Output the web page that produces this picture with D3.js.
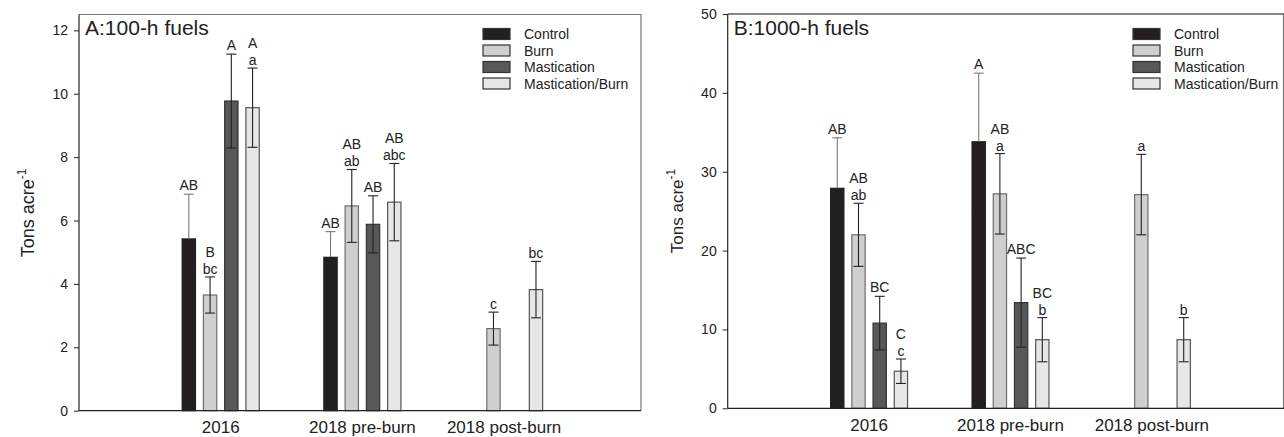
<!DOCTYPE html>
<html>
<head>
<meta charset="utf-8">
<script src="https://cdn.jsdelivr.net/npm/d3@7"></script>
<style>
  body { margin: 0; background: #fff; }
  svg { display: block; font-family: "Liberation Sans", Arial, sans-serif; }
</style>
</head>
<body>
<svg id="chart" width="1284" height="437"></svg>
<script>
const groups = ["2016", "2018 pre-burn", "2018 post-burn"];
const treatments = ["Control", "Burn", "Mastication", "Mastication/Burn"];
const fills = ["#231f20", "#cfcfcf", "#58585a", "#e7e7e8"];
const strokes = ["#231f20", "#6e6e6e", "#333333", "#555555"];
const errUpColors = ["#7a7a7a", "#222222", "#222222", "#222222"];
const errLoColors = ["#231f20", "#222222", "#222222", "#222222"];

// panel A: 100-h fuels (rows = groups, columns = treatments)
const meansA = [[5.42, 3.65, 9.77, 9.56], [4.84, 6.46, 5.88, 6.58], [null, 2.59, null, 3.82]];
const errsA = [[1.41, 0.57, 1.48, 1.25], [0.81, 1.15, 0.90, 1.22], [null, 0.52, null, 0.89]];
const upperA = [["AB", "B", "A", "A"], ["AB", "AB", "AB", "AB"], [null, null, null, null]];
const lowerA = [[null, "bc", null, "a"], [null, "ab", null, "abc"], [null, "c", null, "bc"]];
const ticksA = [0, 2, 4, 6, 8, 10, 12];

// panel B: 1000-h fuels
const meansB = [[27.9, 22.0, 10.8, 4.7], [33.8, 27.2, 13.4, 8.7], [null, 27.1, null, 8.7]];
const errsB = [[6.4, 4.0, 3.4, 1.55], [8.7, 5.1, 5.65, 2.8], [null, 5.1, null, 2.8]];
const upperB = [["AB", "AB", "BC", "C"], ["A", "AB", "ABC", "BC"], [null, null, null, null]];
const lowerB = [[null, "ab", null, "c"], [null, "a", null, "b"], [null, "a", null, "b"]];
const ticksB = [0, 10, 20, 30, 40, 50];

const svg = d3.select("#chart");

function drawPanel(p) {
  const x = d3.scaleLinear().domain([0, 4]).range([p.left, p.left + 4 * p.step]);
  const y = d3.scaleLinear().domain([0, p.ymax]).range([p.bottom, p.top]);
  const g = svg.append("g");
  const barW = x(0.094) - x(0);
  const off = 0.15;

  // frame
  g.append("path")
    .attr("d", `M${p.left},${p.top}H${p.right}V${p.bottom}`)
    .attr("fill", "none").attr("stroke", p.frameColor).attr("stroke-width", 1.2);

  // bars
  const rows = [];
  p.means.forEach((row, gi) => row.forEach((m, ti) => {
    if (m == null) return;
    rows.push({ gi, ti, m, e: p.errs[gi][ti], up: p.upper[gi][ti], lo: p.lower[gi][ti] });
  }));
  const cx = d => x(d.gi + 1 + (d.ti - 1.5) * off);

  g.selectAll(".bar").data(rows).enter().append("rect")
    .attr("x", d => cx(d) - barW / 2)
    .attr("width", barW)
    .attr("y", d => y(d.m))
    .attr("height", d => y(0) - y(d.m))
    .attr("fill", d => fills[d.ti])
    .attr("stroke", d => strokes[d.ti])
    .attr("stroke-width", 1.2);

  // error bars: upper half and lower half
  const eb = g.selectAll(".err").data(rows).enter().append("g").attr("stroke-width", 1.1);
  const up = eb.append("g").attr("stroke", d => errUpColors[d.ti]);
  up.append("line")
    .attr("x1", cx).attr("x2", cx)
    .attr("y1", d => y(d.m)).attr("y2", d => y(d.m + d.e));
  up.append("line")
    .attr("x1", d => cx(d) - 5).attr("x2", d => cx(d) + 5)
    .attr("y1", d => y(d.m + d.e)).attr("y2", d => y(d.m + d.e));
  const lo = eb.append("g").attr("stroke", d => errLoColors[d.ti]);
  lo.append("line")
    .attr("x1", cx).attr("x2", cx)
    .attr("y1", d => y(d.m - d.e)).attr("y2", d => y(d.m));
  lo.append("line")
    .attr("x1", d => cx(d) - 5).attr("x2", d => cx(d) + 5)
    .attr("y1", d => y(d.m - d.e)).attr("y2", d => y(d.m - d.e));

  // letters
  const lab = g.selectAll(".lab").data(rows).enter().append("g");
  lab.filter(d => d.lo).append("text")
    .attr("x", cx).attr("y", d => y(d.m + d.e) - 3)
    .attr("text-anchor", "middle").attr("font-size", 14).attr("fill", "#222")
    .text(d => d.lo);
  lab.filter(d => d.up).append("text")
    .attr("x", cx).attr("y", d => y(d.m + d.e) - (d.lo ? 20 : 4))
    .attr("text-anchor", "middle").attr("font-size", 14).attr("fill", "#222")
    .text(d => d.up);

  // bottom axis line and group labels
  g.append("line")
    .attr("x1", p.left).attr("x2", p.right)
    .attr("y1", p.bottom).attr("y2", p.bottom)
    .attr("stroke", "#222").attr("stroke-width", 1.2);
  g.selectAll(".xl").data(groups).enter().append("text")
    .attr("x", (d, i) => x(i + 1))
    .attr("y", p.bottom + 22.3)
    .attr("text-anchor", "middle").attr("font-size", 17).attr("fill", "#222")
    .text(d => d);

  // y axis
  const ax = g.append("g")
    .attr("transform", `translate(${p.left},0)`)
    .call(d3.axisLeft(y).tickValues(p.ticks).tickSize(5).tickSizeOuter(0).tickPadding(6));
  ax.select(".domain").attr("stroke", "#222").attr("stroke-width", 1.2)
    .attr("d", `M0,${p.top}V${p.bottom}`);
  ax.selectAll(".tick line").attr("stroke", "#222");
  ax.selectAll(".tick text").attr("font-size", 14).attr("fill", "#222")
    .attr("font-family", "Liberation Sans, Arial, sans-serif");

  // y label
  const yl = g.append("text")
    .attr("transform", `translate(${p.left - 45},${p.labelY}) rotate(-90)`)
    .attr("text-anchor", "middle").attr("font-size", p.labelSize).attr("fill", "#222");
  yl.append("tspan").text("Tons acre");
  yl.append("tspan").attr("dy", -8).attr("font-size", 12).text("-1");

  // title
  g.append("text")
    .attr("x", p.left + 6).attr("y", 35)
    .attr("font-size", 21).attr("fill", "#222")
    .text(p.title);

  // legend
  const lg = g.selectAll(".lg").data(treatments).enter().append("g")
    .attr("transform", (d, i) => `translate(${p.legendX},${28.5 + i * 16.5})`);
  lg.append("rect")
    .attr("width", 27).attr("height", 11)
    .attr("fill", (d, i) => fills[i]).attr("stroke", "#333").attr("stroke-width", 1.2);
  lg.append("text")
    .attr("x", 41).attr("y", 10.5)
    .attr("font-size", 14).attr("fill", "#222")
    .text(d => d);
}

drawPanel({
  left: 79, right: 641, top: 14.5, bottom: 410.7, step: 141.7, ymax: 12.5,
  means: meansA, errs: errsA, upper: upperA, lower: lowerA, ticks: ticksA,
  title: "A:100-h fuels", legendX: 483, labelY: 213, labelSize: 18, frameColor: "#777"
});
drawPanel({
  left: 727.7, right: 1284, top: 14, bottom: 408.3, step: 141.4, ymax: 50,
  means: meansB, errs: errsB, upper: upperB, lower: lowerB, ticks: ticksB,
  title: "B:1000-h fuels", legendX: 1133, labelY: 211, labelSize: 17, frameColor: "#111"
});
</script>
</body>
</html>
